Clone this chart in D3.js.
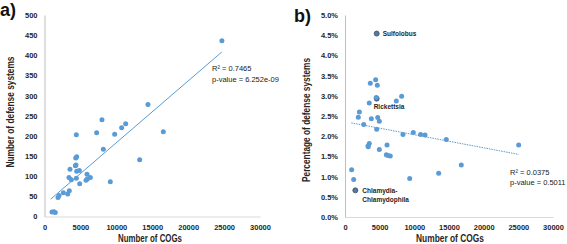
<!DOCTYPE html>
<html>
<head>
<meta charset="utf-8">
<script src="https://cdn.jsdelivr.net/npm/d3@7"></script>
<style>
    body { margin: 0; background: #fff; }
    svg { display: block; font-family: "Liberation Sans", Arial, sans-serif; }
    .title { font-weight: bold; fill: #262626; }
</style>
</head>
<body>
<svg id="chart" width="567" height="244"></svg>
<script>
// values
var xTicks = [0, 5000, 10000, 15000, 20000, 25000, 30000];
var yTicksA = [0, 50, 100, 150, 200, 250, 300, 350, 400, 450, 500];
var yTicksB = [0, 0.5, 1, 1.5, 2, 2.5, 3, 3.5, 4, 4.5, 5];

// a) number of COGs vs number of defense systems
var cogsA = [24700, 14400, 8000, 16540, 11300, 10740, 7260, 9770, 4430, 8190, 13250, 4480, 4350, 4380, 4300,
    3550, 4850, 4480, 5920, 3410, 3730, 4430, 5960, 6380, 5780, 4900, 9160, 3450, 3230, 2620, 2020, 1880,
    1040, 1320, 1500];
var defenseA = [436, 278, 240, 210, 230, 220, 208, 204, 203, 167, 141, 148, 145, 128, 126,
    117, 114, 112, 105, 97, 91, 95, 93, 97, 90, 81, 86, 64, 56, 59, 52, 47,
    11, 12, 10];
// Excel linear trendline, end points
var trendA = [[860, 43], [24670, 408]];

// b) number of COGs vs percentage of defense systems
var cogsB = [4570, 4420, 4660, 3650, 4570, 4500, 8170, 7400, 3500, 2070, 1920, 3800, 4720, 4950, 2700,
    4570, 9850, 8360, 10900, 11540, 14610, 25050, 3500, 3320, 3350, 6060, 4950, 5960, 6530, 6200,
    16770, 960, 13510, 1250, 9330, 1490];
var percentB = [4.54, 3.40, 3.26, 3.31, 2.93, 2.96, 2.99, 2.87, 2.82, 2.60, 2.47, 2.43, 2.46, 2.37, 2.29,
    2.17, 2.09, 2.04, 2.04, 2.03, 1.92, 1.78, 1.82, 1.76, 1.74, 1.78, 1.67, 1.54, 1.51, 1.52,
    1.29, 1.17, 1.08, 0.93, 0.95, 0.66];
var namesB = ["Sulfolobus", "", "", "", "Rickettsia", "", "", "", "", "", "", "", "", "", "",
    "", "", "", "", "", "", "", "", "", "", "", "", "", "", "",
    "", "", "", "", "", "Chlamydia-\nChlamydophila"];
var trendB = [[910, 2.33], [25050, 1.55]];

var statsA = ["R\u00b2 = 0.7465", "p-value = 6.252e-09"];
var statsB = ["R\u00b2 = 0.0375", "p-value = 0.5011"];

var svg = d3.select('#chart');
var blue = '#5b9bd5';

function panel(opt) {
    var x = d3.scaleLinear().domain([0, 30000]).range(opt.xr);
    var y = d3.scaleLinear().domain(opt.yd).range(opt.yr);
    var g = svg.append('g');

    // axes
    g.append('g')
        .attr('transform', 'translate(0,' + opt.yr[0] + ')')
        .call(d3.axisBottom(x).tickValues(xTicks).tickSize(0).tickPadding(8).tickFormat(d3.format('d')))
        .call(function (a) {
            a.attr('font-family', null).attr('font-size', 7.5).attr('font-weight', 'bold');
            a.select('.domain').attr('stroke', '#d9d9d9');
            a.selectAll('text').attr('fill', '#262626');
        });
    g.append('g')
        .attr('transform', 'translate(' + opt.xr[0] + ',0)')
        .call(d3.axisLeft(y).tickValues(opt.yt).tickSize(0).tickPadding(7).tickFormat(opt.fmt))
        .call(function (a) {
            a.attr('font-family', null).attr('font-size', 7.5).attr('font-weight', 'bold');
            a.select('.domain').attr('stroke', '#bfbfbf');
            a.selectAll('text').attr('fill', '#262626');
        });

    // trendline
    g.append('line')
        .attr('x1', x(opt.trend[0][0])).attr('y1', y(opt.trend[0][1]))
        .attr('x2', x(opt.trend[1][0])).attr('y2', y(opt.trend[1][1]))
        .attr('stroke', blue)
        .attr('stroke-width', 1)
        .attr('stroke-dasharray', opt.dash);

    // points
    g.selectAll('circle.pt')
        .data(opt.xs)
        .enter().append('circle')
        .attr('class', 'pt')
        .attr('cx', function (d) { return x(d); })
        .attr('cy', function (d, i) { return y(opt.ys[i]); })
        .attr('r', 2.5)
        .attr('fill', function (d, i) { return opt.names && opt.names[i] ? '#56799f' : blue; })
        .attr('stroke', function (d, i) { return opt.names && opt.names[i] ? '#3a4f66' : 'none'; })
        .attr('stroke-width', 0.8);

    // point labels
    if (opt.names) {
        opt.names.forEach(function (n, i) {
            if (!n) return;
            var tx = g.append('text')
                .attr('class', 'title')
                .attr('font-size', 6.5);
            n.split('\n').forEach(function (l, k) {
                tx.append('tspan')
                    .attr('x', x(opt.xs[i]) + opt.lab[i][0])
                    .attr('y', y(opt.ys[i]) + opt.lab[i][1] + k * 9)
                    .text(l);
            });
        });
    }

    // R2 / p-value
    opt.stats.forEach(function (s, k) {
        g.append('text')
            .attr('x', opt.statPos[0])
            .attr('y', opt.statPos[1] + k * 10.5)
            .attr('font-size', 7.5)
            .attr('fill', '#1a1a1a')
            .text(s);
    });

    // axis titles
    g.append('text')
        .attr('class', 'title')
        .attr('x', opt.xtx)
        .attr('y', 242)
        .attr('text-anchor', 'middle')
        .attr('font-size', 10)
        .attr('textLength', opt.xtLen)
        .attr('lengthAdjust', 'spacingAndGlyphs')
        .text('Number of COGs');
    g.append('text')
        .attr('class', 'title')
        .attr('transform', 'translate(' + opt.ytx + ',' + opt.yty + ') rotate(-90)')
        .attr('text-anchor', 'middle')
        .attr('font-size', 10)
        .attr('textLength', opt.ytLen)
        .attr('lengthAdjust', 'spacingAndGlyphs')
        .text(opt.ytitle);

    // panel letter
    g.append('text')
        .attr('x', opt.letter[0])
        .attr('y', opt.letter[1])
        .attr('font-weight', 'bold')
        .attr('font-size', 18)
        .attr('fill', '#111')
        .text(opt.letterText);
}

panel({
    xr: [44.5, 260], yr: [216.5, 15], yd: [0, 500], yt: yTicksA,
    fmt: d3.format('d'), xs: cogsA, ys: defenseA, trend: trendA, dash: null,
    stats: statsA, statPos: [212, 71],
    xtx: 150, xtLen: 64,
    ytx: 14, yty: 112, ytLen: 111, ytitle: 'Number of defense systems',
    letter: [0, 16], letterText: 'a)'
});

panel({
    xr: [345, 553], yr: [217, 15], yd: [0, 5], yt: yTicksB,
    fmt: function (d) { return d3.format('.1f')(d) + '%'; }, xs: cogsB, ys: percentB, trend: trendB, dash: '1.5,1',
    names: namesB,
    lab: cogsB.map(function (d, i) {
        if (i === 0) return [6, 2.5];
        if (i === 4) return [-3, 10.5];
        return [7, 2.5];
    }),
    stats: statsB, statPos: [510, 174.5],
    xtx: 450, xtLen: 68,
    ytx: 310, yty: 120, ytLen: 124, ytitle: 'Percentage of defense systems',
    letter: [294, 22], letterText: 'b)'
});
</script>
</body>
</html>
